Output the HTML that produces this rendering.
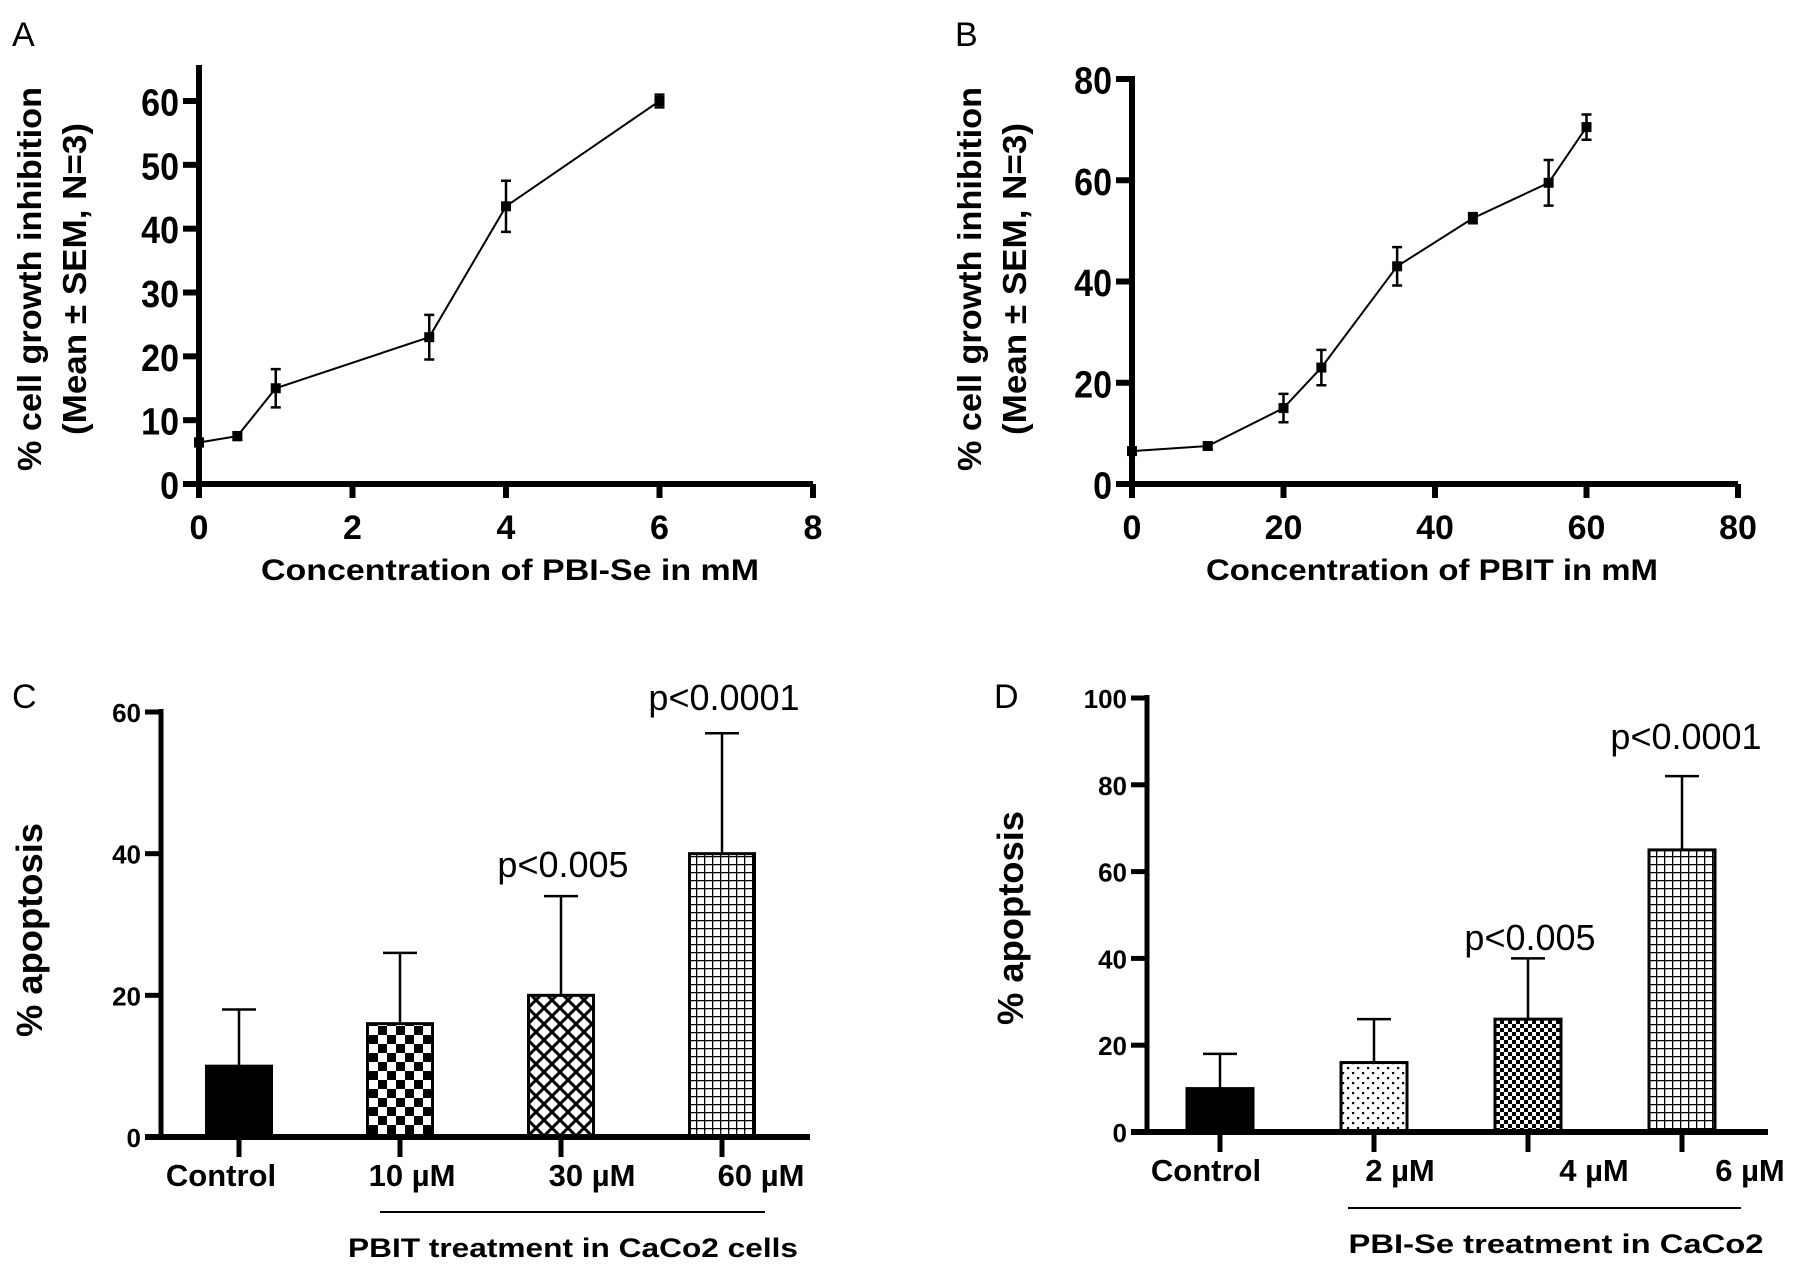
<!DOCTYPE html>
<html><head><meta charset="utf-8"><style>
html,body{margin:0;padding:0;background:#fff;}
svg{display:block;font-family:"Liberation Sans",Arial,sans-serif;}
.tk{font-weight:bold;font-size:34px;}
.tks{font-weight:bold;font-size:26px;}
.ttl{font-weight:bold;font-size:30px;}
.ytl{font-weight:bold;font-size:33px;}
.cat{font-weight:bold;font-size:31px;}
.pv{font-size:36px;}
.let{font-size:34px;}
</style></head><body>
<svg id="fig" width="1795" height="1264" viewBox="0 0 1795 1264" xmlns="http://www.w3.org/2000/svg">
<defs>
<pattern id="pChk" width="18" height="18" patternUnits="userSpaceOnUse"><rect width="18" height="18" fill="#fff"/><rect width="9" height="9" fill="#000"/><rect x="9" y="9" width="9" height="9" fill="#000"/></pattern>
<pattern id="pDia" width="16" height="16" patternUnits="userSpaceOnUse"><rect width="16" height="16" fill="#fff"/><path d="M0 0L16 16M16 0L0 16M-8 8L8 -8M8 24L24 8M-8 8L8 24M8 -8L24 8" stroke="#000" stroke-width="3"/></pattern>
<pattern id="pGrid" width="8" height="8" patternUnits="userSpaceOnUse"><rect width="8" height="8" fill="#fff"/><path d="M0 0.5H8M0.5 0V8" stroke="#000" stroke-width="1.6"/></pattern>
<pattern id="pDot" width="10" height="10" patternUnits="userSpaceOnUse"><rect width="10" height="10" fill="#fff"/><rect x="2" y="2" width="2.2" height="2.2" fill="#000"/><rect x="7" y="7" width="2.2" height="2.2" fill="#000"/></pattern>
<pattern id="pFine" width="8" height="8" patternUnits="userSpaceOnUse"><rect width="8" height="8" fill="#fff"/><rect width="4" height="4" fill="#000"/><rect x="4" y="4" width="4" height="4" fill="#000"/></pattern>
</defs>
</svg>
<script>
// Panel A data
const aX = [0, 0.5, 1, 3, 4, 6];
const aY = [6.5, 7.5, 15, 23, 43.5, 60];
const aErr = [0.6, 0.6, 3, 3.5, 4, 1];
const aXTicks = [0, 2, 4, 6, 8];
const aYTicks = [0, 10, 20, 30, 40, 50, 60];
// Panel B data
const bX = [0, 10, 20, 25, 35, 45, 55, 60];
const bY = [6.5, 7.5, 15, 23, 43, 52.5, 59.5, 70.5];
const bErr = [0, 0.6, 2.8, 3.5, 3.8, 1, 4.5, 2.5];
const bXTicks = [0, 20, 40, 60, 80];
const bYTicks = [0, 20, 40, 60, 80];
// Panel C data
const cCats = ["Control", "10 \u00b5M", "30 \u00b5M", "60 \u00b5M"];
const cVals = [10, 16, 20, 40];
const cErr = [8, 10, 14, 17];
const cYTicks = [0, 20, 40, 60];
// Panel D data
const dCats = ["Control", "2 \u00b5M", "4 \u00b5M", "6 \u00b5M"];
const dVals = [10, 16, 26, 65];
const dErr = [8, 10, 14, 17];
const dYTicks = [0, 20, 40, 60, 80, 100];

const NS = "http://www.w3.org/2000/svg";
const svg = document.getElementById("fig");
function mk(tag, attrs, parent, text) {
  const e = document.createElementNS(NS, tag);
  for (const k in attrs) e.setAttribute(k, attrs[k]);
  if (text !== undefined) e.textContent = text;
  (parent || svg).appendChild(e);
  return e;
}
function lin(d0, d1, r0, r1) { return v => r0 + (v - d0) * (r1 - r0) / (d1 - d0); }

function linePanel(name, X, Y, E, xt, yt, cfg) {
  const g = mk("g", {});
  
  
  const sx = lin(xt[0], xt[xt.length - 1], cfg.x0, cfg.x1);
  const sy = lin(yt[0], cfg.ymaxVal, cfg.y0, cfg.ymaxPx);
  const ax = mk("path", {d: `M${cfg.x0} ${cfg.axTop}V${cfg.y0}H${cfg.x1}`, stroke: "#000", "stroke-width": 6, fill: "none"}, g);
  
  
  yt.forEach(v => {
    mk("line", {x1: cfg.x0 - 16, x2: cfg.x0, y1: sy(v), y2: sy(v), stroke: "#000", "stroke-width": 6}, g);
    const t = mk("text", {x: cfg.x0 - 20, y: sy(v) + 13, "text-anchor": "end", class: "tk", transform: `translate(0 ${sy(v)}) scale(1 1.12) translate(0 ${-sy(v)})`}, g, v);
    
    
  });
  xt.forEach(v => {
    mk("line", {x1: sx(v), x2: sx(v), y1: cfg.y0, y2: cfg.y0 + 14, stroke: "#000", "stroke-width": 6}, g);
    const t = mk("text", {x: sx(v), y: cfg.y0 + 55, "text-anchor": "middle", class: "tk"}, g, v);
    
    
  });
  const pts = X.map((x, i) => sx(x) + "," + sy(Y[i])).join(" ");
  const pl = mk("polyline", {points: pts, fill: "none", stroke: "#000", "stroke-width": 2}, g);
  
  
  X.forEach((x, i) => {
    const px = sx(x), py = sy(Y[i]), lo = sy(Y[i] - E[i]), hi = sy(Y[i] + E[i]);
    if (E[i] > 0) {
      const eb = mk("path", {d: `M${px} ${hi}V${lo}M${px - 5} ${hi}H${px + 5}M${px - 5} ${lo}H${px + 5}`, stroke: "#000", "stroke-width": 2.5, fill: "none"}, g);
      
      
    }
    const m = mk("rect", {x: px - 5, y: py - 5, width: 10, height: 10, fill: "#000"}, g);
    
    
  });
  const xt1 = mk("text", {x: cfg.xtX, y: cfg.y0 + 96, "text-anchor": "middle", class: "ttl", "textLength": cfg.xtLen, lengthAdjust: "spacingAndGlyphs"}, g, cfg.xTitle);
  
  
  const y1 = mk("text", {transform: `translate(${cfg.ylX} ${cfg.ylY}) rotate(-90)`, "text-anchor": "middle", class: "ytl", textLength: 384, lengthAdjust: "spacingAndGlyphs"}, g, "% cell growth inhibition");
  
  
  const y2 = mk("text", {transform: `translate(${cfg.ylX + 45} ${cfg.ylY}) rotate(-90)`, "text-anchor": "middle", class: "ytl", textLength: 312, lengthAdjust: "spacingAndGlyphs"}, g, "(Mean \u00b1 SEM, N=3)");
  
  
  const L = mk("text", {x: cfg.letX, y: cfg.letY, class: "let"}, g, cfg.letter);
  
  
}

function barPanel(name, cats, vals, errs, yt, cfg) {
  const g = mk("g", {});
  
  
  const sy = lin(0, yt[yt.length - 1], cfg.y0, cfg.ytop);
  const bx = i => cfg.c0 + i * cfg.step;
  const ax = mk("path", {d: `M${cfg.x0} ${cfg.ytop - 3}V${cfg.y0}`, stroke: "#000", "stroke-width": 5, fill: "none"}, g);
  
  
  yt.forEach(v => {
    mk("line", {x1: cfg.x0 - 16, x2: cfg.x0, y1: sy(v), y2: sy(v), stroke: "#000", "stroke-width": 5}, g);
    const t = mk("text", {x: cfg.x0 - 20, y: sy(v) + 10, "text-anchor": "end", class: "tks"}, g, v);
    
    
  });
  vals.forEach((v, i) => {
    const cx = bx(i);
    const eb = mk("path", {d: `M${cx} ${sy(v)}V${sy(v + errs[i])}M${cx - 17} ${sy(v + errs[i])}H${cx + 17}`, stroke: "#000", "stroke-width": 2.5, fill: "none"}, g);
    
    
    const r = mk("rect", {x: cx - cfg.bw / 2, y: sy(v), width: cfg.bw, height: cfg.y0 - sy(v), fill: cfg.fills[i], stroke: "#000", "stroke-width": 3}, g);
    
    
    mk("line", {x1: cx, x2: cx, y1: cfg.y0, y2: cfg.y0 + 20, stroke: "#000", "stroke-width": 5}, g);
    const t = mk("text", {x: cfg.labX[i], y: cfg.y0 + 49, "text-anchor": "middle", class: "cat"}, g, cats[i]);
    
    
  });
  const xa = mk("line", {x1: cfg.x0 - 16, x2: cfg.x1, y1: cfg.y0, y2: cfg.y0, stroke: "#000", "stroke-width": 6}, g);
  
  
  const br = mk("line", {x1: cfg.brk[0], x2: cfg.brk[1], y1: cfg.brkY, y2: cfg.brkY, stroke: "#000", "stroke-width": 2}, g);
  
  
  const gt = mk("text", {x: cfg.gtX, y: cfg.brkY + 45, "text-anchor": "middle", class: "ttl", style: "font-size:27px", textLength: cfg.gtLen, lengthAdjust: "spacingAndGlyphs"}, g, cfg.gTitle);
  
  
  cfg.pv.forEach(p => {
    const t = mk("text", {x: p.x, y: p.y, "text-anchor": "middle", class: "pv"}, g, p.t);
    
    
  });
  const yl = mk("text", {transform: `translate(${cfg.ylX} ${cfg.ylY}) rotate(-90)`, "text-anchor": "middle", class: "ttl", style: "font-size:36px", textLength: 214, lengthAdjust: "spacingAndGlyphs"}, g, "% apoptosis");
  
  
  const L = mk("text", {x: cfg.letX, y: cfg.letY, class: "let"}, g, cfg.letter);
  
  
}

linePanel("panel-a", aX, aY, aErr, aXTicks, aYTicks, {
  x0: 199, x1: 813, y0: 484, ymaxVal: 60, ymaxPx: 101, axTop: 65,
  xTitle: "Concentration of PBI-Se in mM", xtX: 510, xtLen: 498,
  ylX: 41, ylY: 279, letter: "A", letX: 12, letY: 46
});
linePanel("panel-b", bX, bY, bErr, bXTicks, bYTicks, {
  x0: 1132, x1: 1738, y0: 484, ymaxVal: 80, ymaxPx: 79, axTop: 76,
  xTitle: "Concentration of PBIT in mM", xtX: 1432, xtLen: 452,
  ylX: 981, ylY: 279, letter: "B", letX: 955, letY: 46
});
barPanel("panel-c", cCats, cVals, cErr, cYTicks, {
  x0: 161, x1: 810, y0: 1137, ytop: 712, c0: 239, step: 161, bw: 65,
  fills: ["#000", "url(#pChk)", "url(#pDia)", "url(#pGrid)"],
  labX: [221, 412, 592, 761], brk: [380, 765], brkY: 1212,
  gTitle: "PBIT treatment in CaCo2 cells", gtX: 573, gtLen: 450,
  pv: [{x: 563, y: 877, t: "p<0.005"}, {x: 724, y: 710, t: "p<0.0001"}],
  ylX: 42, ylY: 930, letter: "C", letX: 12, letY: 708
});
barPanel("panel-d", dCats, dVals, dErr, dYTicks, {
  x0: 1147, x1: 1768, y0: 1132, ytop: 698, c0: 1220, step: 154, bw: 66,
  fills: ["#000", "url(#pDot)", "url(#pFine)", "url(#pGrid)"],
  labX: [1206, 1400, 1594, 1750], brk: [1348, 1741], brkY: 1208,
  gTitle: "PBI-Se treatment in CaCo2", gtX: 1556, gtLen: 415,
  pv: [{x: 1530, y: 950, t: "p<0.005"}, {x: 1686, y: 749, t: "p<0.0001"}],
  ylX: 1023, ylY: 918, letter: "D", letX: 994, letY: 708
});
</script>
</body></html>
